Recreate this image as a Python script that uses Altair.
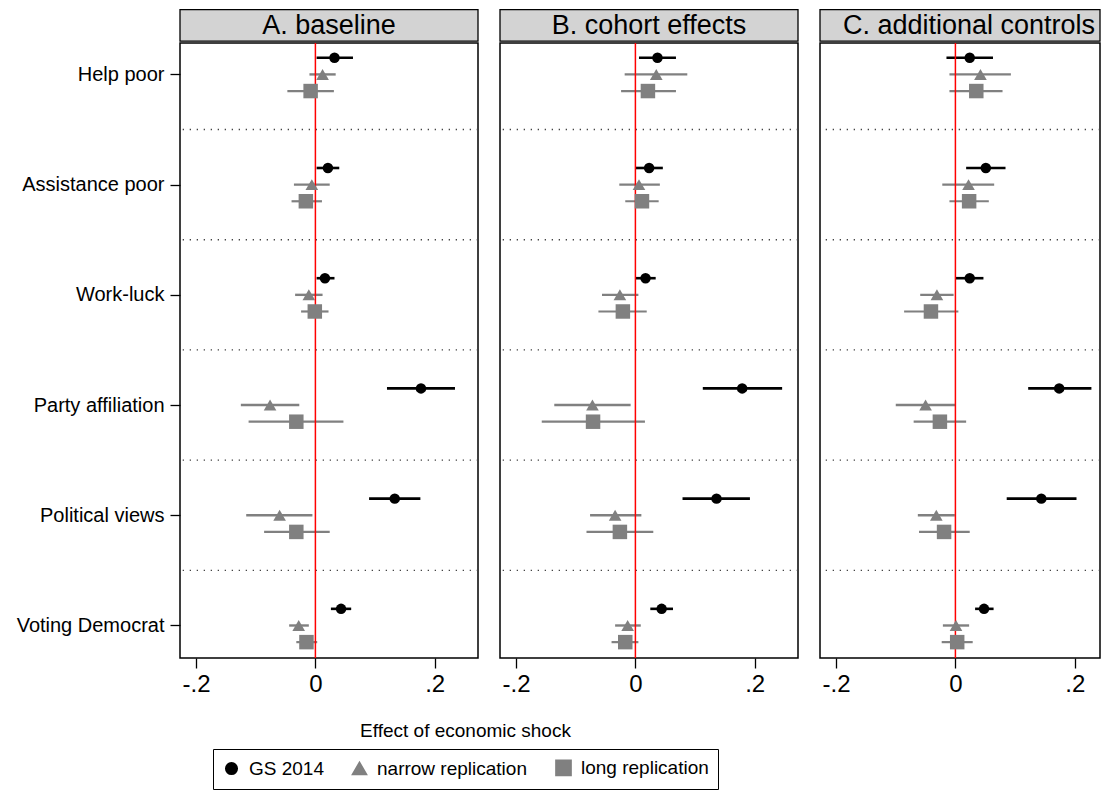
import altair as alt
import pandas as pd

FONT = "Liberation Sans"

categories = ["Help poor", "Assistance poor", "Work-luck",
              "Party affiliation", "Political views", "Voting Democrat"]
series_names = ["GS 2014", "narrow replication", "long replication"]
panel_titles = ["A. baseline", "B. cohort effects", "C. additional controls"]
x_ticks = [-0.2, 0, 0.2]
x_tick_labels = ["-.2", "0", ".2"]
x_title = "Effect of economic shock"

# ---- Panel A: baseline ----
a_gs_est = [0.032, 0.021, 0.016, 0.177, 0.133, 0.043]
a_gs_lo = [0.002, 0.002, 0.002, 0.120, 0.090, 0.026]
a_gs_hi = [0.063, 0.040, 0.032, 0.234, 0.176, 0.060]
a_nr_est = [0.012, -0.006, -0.011, -0.076, -0.060, -0.028]
a_nr_lo = [-0.010, -0.036, -0.034, -0.125, -0.116, -0.044]
a_nr_hi = [0.034, 0.024, 0.012, -0.027, -0.005, -0.011]
a_lr_est = [-0.008, -0.016, -0.001, -0.032, -0.032, -0.015]
a_lr_lo = [-0.047, -0.040, -0.024, -0.112, -0.086, -0.032]
a_lr_hi = [0.031, 0.011, 0.022, 0.047, 0.024, 0.003]

# ---- Panel B: cohort effects ----
b_gs_est = [0.037, 0.023, 0.017, 0.179, 0.136, 0.044]
b_gs_lo = [0.006, 0.000, 0.000, 0.113, 0.079, 0.025]
b_gs_hi = [0.068, 0.046, 0.034, 0.246, 0.192, 0.063]
b_nr_est = [0.035, 0.006, -0.026, -0.072, -0.034, -0.013]
b_nr_lo = [-0.018, -0.027, -0.056, -0.136, -0.076, -0.034]
b_nr_hi = [0.087, 0.041, 0.005, -0.008, 0.010, 0.009]
b_lr_est = [0.021, 0.011, -0.021, -0.071, -0.026, -0.017]
b_lr_lo = [-0.024, -0.017, -0.062, -0.157, -0.082, -0.040]
b_lr_hi = [0.068, 0.039, 0.019, 0.016, 0.030, 0.005]

# ---- Panel C: additional controls ----
c_gs_est = [0.024, 0.051, 0.024, 0.174, 0.144, 0.048]
c_gs_lo = [-0.015, 0.018, 0.000, 0.122, 0.086, 0.033]
c_gs_hi = [0.063, 0.084, 0.047, 0.228, 0.203, 0.064]
c_nr_est = [0.042, 0.022, -0.031, -0.050, -0.032, 0.001]
c_nr_lo = [-0.010, -0.022, -0.059, -0.100, -0.063, -0.021]
c_nr_hi = [0.093, 0.065, -0.003, 0.000, -0.001, 0.023]
c_lr_est = [0.035, 0.023, -0.041, -0.026, -0.019, 0.003]
c_lr_lo = [-0.010, -0.010, -0.086, -0.070, -0.061, -0.023]
c_lr_hi = [0.079, 0.056, 0.005, 0.018, 0.024, 0.029]

panel_data = {
    panel_titles[0]: [(a_gs_est, a_gs_lo, a_gs_hi), (a_nr_est, a_nr_lo, a_nr_hi), (a_lr_est, a_lr_lo, a_lr_hi)],
    panel_titles[1]: [(b_gs_est, b_gs_lo, b_gs_hi), (b_nr_est, b_nr_lo, b_nr_hi), (b_lr_est, b_lr_lo, b_lr_hi)],
    panel_titles[2]: [(c_gs_est, c_gs_lo, c_gs_hi), (c_nr_est, c_nr_lo, c_nr_hi), (c_lr_est, c_lr_lo, c_lr_hi)],
}

series_offset = [-0.151, 0.0, 0.151]
rows = []
for p, triples in panel_data.items():
    for si, (est, lo, hi) in enumerate(triples):
        for ci, cat in enumerate(categories):
            rows.append(dict(panel=p, category=cat, series=series_names[si],
                             est=est[ci], lo=lo[ci], hi=hi[ci],
                             ypos=ci + series_offset[si]))
df = pd.DataFrame(rows)
div_df = pd.DataFrame({"y": [i + 0.5 for i in range(len(categories) - 1)]})
zero_df = pd.DataFrame({"x": [0.0]})

y_label_expr = "[" + ",".join("'" + c + "'" for c in categories) + "][datum.value]"
x_label_expr = ("datum.value < -0.1 ? '%s' : (datum.value > 0.1 ? '%s' : '%s')"
                % (x_tick_labels[0], x_tick_labels[2], x_tick_labels[1]))

color_scale = alt.Scale(domain=series_names, range=["#000000", "#808080", "#808080"])
shape_scale = alt.Scale(domain=series_names, range=["circle", "triangle-up", "square"])
size_scale = alt.Scale(domain=series_names, range=[110, 210, 130])
sw_scale = alt.Scale(domain=series_names, range=[2.6, 2.2, 2.2])

Y_DOMAIN = [-0.285, 5.295]
PLOT_H = 615

legend_def = alt.Legend(orient="none", legendX=33, legendY=706, direction="horizontal",
                        title=None, strokeColor="black", fillColor="white", padding=9,
                        labelFont=FONT, labelFontSize=19, labelColor="black",
                        symbolSize=100, symbolStrokeWidth=0, columnPadding=24,
                        labelOffset=8)


def make_panel(idx, width, xmax):
    title = panel_titles[idx]
    d = df[df.panel == title]
    first = idx == 0
    xscale = alt.Scale(domain=[-0.227, xmax], nice=False, zero=False)
    yscale = alt.Scale(domain=Y_DOMAIN, reverse=True, nice=False, zero=False)
    if first:
        xaxis = alt.Axis(values=x_ticks, labelExpr=x_label_expr, labelFontSize=24,
                         labelPadding=4, titleFontSize=19, titleX=285, titleY=78,
                         titleAlign="center", titleBaseline="alphabetic")
        yaxis = alt.Axis(values=list(range(len(categories))), labelExpr=y_label_expr,
                         labelFontSize=20, labelPadding=6)
    else:
        xaxis = alt.Axis(values=x_ticks, labelExpr=x_label_expr, labelFontSize=24,
                         labelPadding=4)
        yaxis = None

    def X(field):
        if first:
            return alt.X(field, scale=xscale, axis=xaxis, title=x_title)
        return alt.X(field, scale=xscale, axis=xaxis, title=None)

    def Y(field):
        return alt.Y(field, scale=yscale, axis=yaxis, title=None)

    dividers = alt.Chart(div_df).mark_rule(strokeDash=[1.3, 5.7], color="#444444",
                                           strokeWidth=1.3).encode(y=Y("y:Q"))
    bars = alt.Chart(d).mark_rule().encode(
        x=X("lo:Q"), x2="hi:Q", y=Y("ypos:Q"),
        color=alt.Color("series:N", scale=color_scale, legend=legend_def),
        strokeWidth=alt.StrokeWidth("series:N", scale=sw_scale, legend=None),
    )
    zero = alt.Chart(zero_df).mark_rule(color="#ff0000", strokeWidth=1.5).encode(x=X("x:Q"))
    pts = alt.Chart(d).mark_point(filled=True, opacity=1).encode(
        x=X("est:Q"), y=Y("ypos:Q"),
        color=alt.Color("series:N", scale=color_scale, legend=legend_def),
        shape=alt.Shape("series:N", scale=shape_scale, legend=legend_def),
        size=alt.Size("series:N", scale=size_scale, legend=None),
    )
    tdf = pd.DataFrame({"t": [title]})
    strip = alt.Chart(tdf).mark_rect(fill="#d3d3d3", stroke="black", strokeWidth=1.3).encode(
        x=alt.value(0), x2=alt.value(width), y=alt.value(-33.3), y2=alt.value(-1.8))
    strip_text = alt.Chart(tdf).mark_text(font=FONT, fontSize=27, color="black",
                                          align="center", baseline="alphabetic").encode(
        x=alt.value(149), y=alt.value(-9), text="t:N")
    return alt.layer(dividers, bars, zero, pts, strip, strip_text).properties(
        width=width, height=PLOT_H)


pA = make_panel(0, 298, 0.2726)
pB = make_panel(1, 298, 0.2726)
pC = make_panel(2, 280, 0.2424)

chart = alt.hconcat(pA, pB, pC, spacing=22, bounds="flush").properties(
    padding={"left": 7, "top": 0, "right": 0, "bottom": 0},
    background="white",
).configure_view(
    stroke="black", strokeWidth=1.5
).configure_axis(
    domain=False, grid=False, tickColor="black", tickWidth=1.3, tickSize=10,
    labelColor="black", labelFont=FONT, titleFont=FONT, titleFontWeight="normal",
    titleColor="black"
)

chart.save("out.html", embed_options={"renderer": "svg", "actions": False})
